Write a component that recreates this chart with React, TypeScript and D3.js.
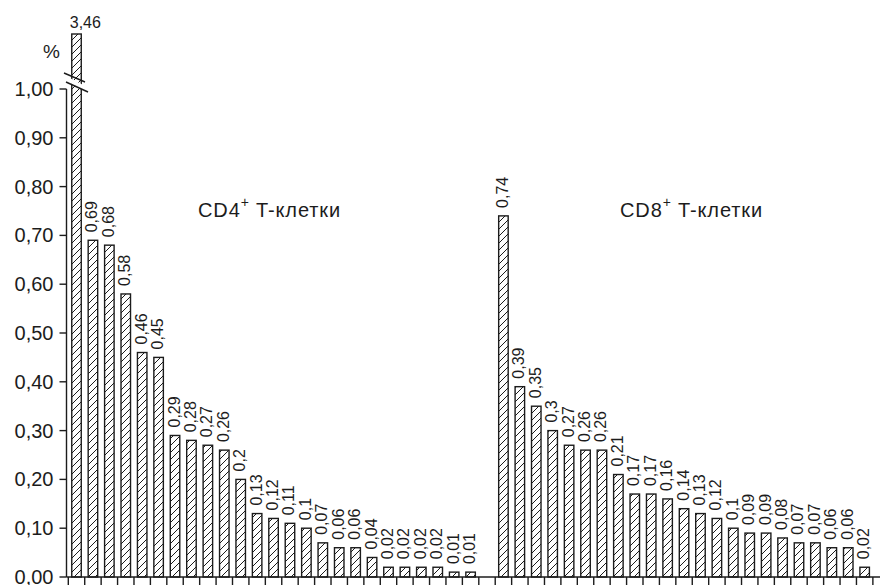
import React from "react";
import * as d3 from "d3";

const cd4Values = [3.46, 0.69, 0.68, 0.58, 0.46, 0.45, 0.29, 0.28, 0.27, 0.26, 0.2, 0.13, 0.12, 0.11, 0.1, 0.07, 0.06, 0.06, 0.04, 0.02, 0.02, 0.02, 0.02, 0.01, 0.01];
const cd8Values = [0.74, 0.39, 0.35, 0.3, 0.27, 0.26, 0.26, 0.21, 0.17, 0.17, 0.16, 0.14, 0.13, 0.12, 0.1, 0.09, 0.09, 0.08, 0.07, 0.07, 0.06, 0.06, 0.02];
const yTickValues = [0, 0.1, 0.2, 0.3, 0.4, 0.5, 0.6, 0.7, 0.8, 0.9, 1.0];
const yTickLabels = ["0,00", "0,10", "0,20", "0,30", "0,40", "0,50", "0,60", "0,70", "0,80", "0,90", "1,00"];
const groupLabels = ["CD4", "CD8"];
const unitLabel = "%";

const W = 885;
const H = 585;
const FONT = "'Liberation Sans', Arial, Helvetica, sans-serif";
const INK = "#1c1c1c";

type Bar = { slot: number; value: number; label: string };

const fmt = (v: number) => String(v).replace(".", ",");

const bars: Bar[] = [
  ...cd4Values.map((v, i) => ({ slot: i, value: v, label: fmt(v) })),
  ...cd8Values.map((v, i) => ({ slot: cd4Values.length + 1 + i, value: v, label: fmt(v) })),
];
const nSlots = cd4Values.length + 1 + cd8Values.length + 1;

export default function App() {
  const x = d3.scaleLinear().domain([0, nSlots]).range([68.3, 68.3 + 16.42 * nSlots]);
  const y = d3.scaleLinear().domain([0, 1]).range([577, 89]);
  const yBreak = d3.scaleLinear().domain([1, 3.46]).range([89, 34]);
  const yv = (v: number) => (v > 1 ? yBreak(v) : y(v));
  const barW = 9.5;
  const axisX = 66.5;
  const slotTicks = d3.range(0, nSlots + 1);

  const firstBar = bars[0];
  const fx = x(firstBar.slot + 0.5) - barW / 2;

  return (
    <svg width={W} height={H} style={{ position: "fixed", left: 0, top: 0, background: "#fff" }} fontFamily={FONT}>
      <defs>
        <pattern id="hatch" patternUnits="userSpaceOnUse" width={7} height={7}>
          <rect width={7} height={7} fill="#fff" />
          <path d="M-1,1 l2,-2 M0,7 l7,-7 M6,8 l2,-2" stroke={INK} strokeWidth={1} />
        </pattern>
      </defs>
      <rect x={0} y={0} width={W} height={H} fill="#fff" />

      {/* bars */}
      {bars.map((b) => {
        const cx = x(b.slot + 0.5);
        const top = yv(b.value);
        return (
          <rect
            key={"b" + b.slot}
            x={cx - barW / 2}
            y={top}
            width={barW}
            height={y(0) - top}
            fill="url(#hatch)"
            stroke={INK}
            strokeWidth={1.4}
          />
        );
      })}

      {/* value labels */}
      {bars.map((b, i) => {
        const cx = x(b.slot + 0.5);
        const top = yv(b.value);
        if (i === 0) {
          return (
            <text key={"l" + b.slot} x={cx - barW / 2 - 2} y={28} fontSize={16} fill={INK}>
              {b.label}
            </text>
          );
        }
        return (
          <text
            key={"l" + b.slot}
            transform={`translate(${cx + 4.5},${top - 8}) rotate(-90)`}
            fontSize={16}
            fill={INK}
          >
            {b.label}
          </text>
        );
      })}

      {/* axis break */}
      <polygon points={`${fx - 2},${78} ${fx + barW + 4},${86} ${fx + barW + 4},${91} ${fx - 2},${83}`} fill="#fff" />
      <line x1={64} y1={73} x2={85} y2={82} stroke={INK} strokeWidth={1.4} />
      <line x1={66} y1={82} x2={88} y2={92} stroke={INK} strokeWidth={1.4} />

      {/* y axis */}
      <line x1={axisX} y1={y(1)} x2={axisX} y2={y(0)} stroke={INK} strokeWidth={1.4} />
      {yTickValues.map((t, i) => (
        <g key={"yt" + i}>
          <line x1={59.5} x2={axisX} y1={y(t)} y2={y(t)} stroke={INK} strokeWidth={1.4} />
          <text x={53.5} y={y(t)} dy="0.35em" textAnchor="end" fontSize={20} fill={INK}>
            {yTickLabels[i]}
          </text>
        </g>
      ))}
      <text x={43} y={58} fontSize={19} fill={INK}>{unitLabel}</text>

      {/* x axis */}
      <line x1={axisX} x2={880} y1={y(0)} y2={y(0)} stroke={INK} strokeWidth={1.4} />
      {slotTicks.map((s) => (
        <line key={"xt" + s} x1={x(s)} x2={x(s)} y1={y(0)} y2={H} stroke={INK} strokeWidth={1.4} />
      ))}

      {/* group labels */}
      {groupLabels.map((g, i) => (
        <text key={g} x={i === 0 ? 198 : 620} y={217} fontSize={20} letterSpacing={0.9} fill={INK}>
          {g}
          <tspan dy={-10} fontSize={14}>+</tspan>
          <tspan dy={10}> T-клетки</tspan>
        </text>
      ))}
    </svg>
  );
}
